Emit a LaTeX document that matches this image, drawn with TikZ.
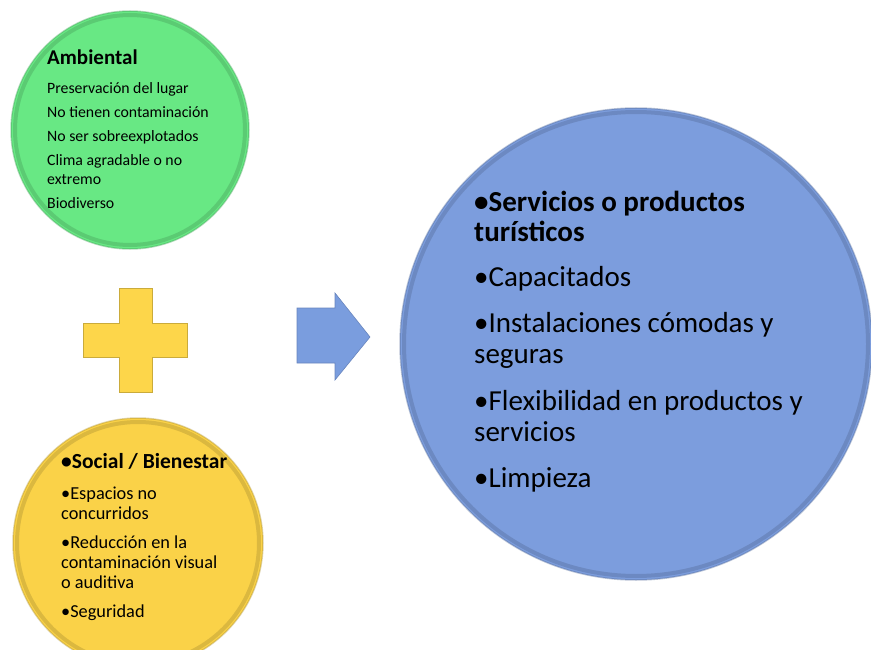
\documentclass[tikz,border=0pt]{standalone}
\usepackage{fontspec}
\setmainfont{Carlito}
\definecolor{verde}{RGB}{104,232,132}
\definecolor{amarillo}{RGB}{250,210,72}
\definecolor{azul}{RGB}{124,157,221}
\definecolor{mas}{RGB}{253,214,74}
\definecolor{flecha}{RGB}{122,157,222}

\begin{document}
\begin{tikzpicture}[x=1pt,y=-1pt,
        circulo/.style={circle, minimum size=#1, inner sep=0pt, line width=1.5pt},
        borde/.style={line width=4pt, draw opacity=0.12},
        texto/.style={anchor=base west, align=left, inner sep=0pt},
        chico/.style={texto, font=\fontsize{15.8}{19}\selectfont},
        medio/.style={texto, font=\fontsize{18.3}{20}\selectfont},
        grande/.style={texto, font=\fontsize{29}{30.5}\selectfont}]
        \useasboundingbox (0,0) rectangle (871,650);

        % circulos
        \node[circulo=238pt, fill=verde, draw=verde!70!black, draw opacity=0.4] (ambiental) at (130,130) {};
        \node[circulo=250pt, fill=amarillo, draw=amarillo!70!black, draw opacity=0.4] (social) at (138,543) {};
        \node[circulo=472pt, fill=azul, draw=azul!70!black, draw opacity=0.4] (servicios) at (636,344) {};
        \draw[borde, black] (ambiental.center) circle (115);
        \draw[borde, black] (social.center) circle (121);
        \draw[borde, black] (servicios.center) circle (232);

        % signo mas
        \fill[mas, draw=mas!80!black, line width=0.6pt] (119,288) -- (152,288) -- (152,323) -- (187,323)
            -- (187,357) -- (152,357) -- (152,392) -- (119,392) -- (119,357) -- (83,357) -- (83,323)
            -- (119,323) -- cycle;

        % flecha
        \fill[flecha, draw=flecha!85!black, line width=0.6pt] (297,308) -- (335,308) -- (335,293)
            -- (370,337) -- (335,380) -- (335,363) -- (297,363) -- cycle;

        % ambiental (base = ultima linea)
        \node[chico, font=\fontsize{21}{19}\selectfont\bfseries] (amb0) at (47,65) {Ambiental};
        \node[chico] (amb1) at (47,94) {Preservación del lugar};
        \node[chico] (amb2) at (47,118) {No tienen contaminación};
        \node[chico] (amb3) at (47,142) {No ser sobreexplotados};
        \node[chico] (amb4) at (47,185) {Clima agradable o no\\extremo};
        \node[chico] (amb5) at (47,209) {Biodiverso};

        % social
        \node[medio, font=\fontsize{21.5}{20}\selectfont\bfseries] (soc0) at (61,468) {•Social / Bienestar};
        \node[medio] (soc1) at (61,519) {•Espacios no\\concurridos};
        \node[medio] (soc2) at (61,588) {•Reducción en la\\contaminación visual\\o auditiva};
        \node[medio] (soc3) at (61,617) {•Seguridad};

        % servicios
        \node[grande, font=\fontsize{29}{30.5}\selectfont\bfseries] (ser0) at (474,242) {•Servicios o productos\\turísticos};
        \node[grande] (ser1) at (474,287) {•Capacitados};
        \node[grande] (ser2) at (474,363) {•Instalaciones cómodas y\\seguras};
        \node[grande] (ser3) at (474,441) {•Flexibilidad en productos y\\servicios};
        \node[grande] (ser4) at (474,487) {•Limpieza};
    \end{tikzpicture}
\end{document}
